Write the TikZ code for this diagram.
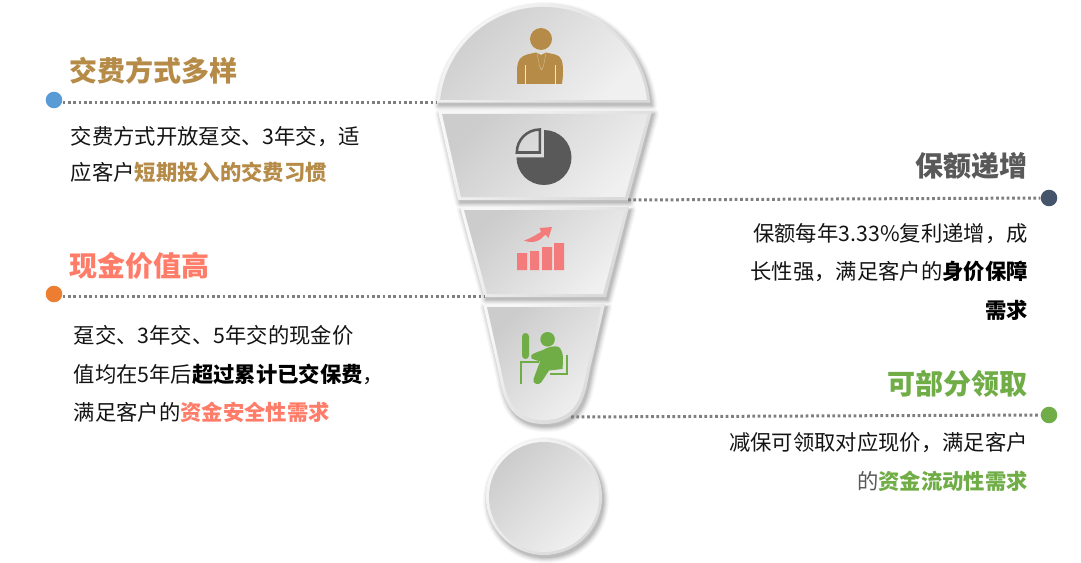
\documentclass[tikz,border=0pt]{standalone}
\usepackage{fontspec}
\setmainfont{Noto Sans CJK SC}
\definecolor{brownc}{HTML}{B58B47}
\definecolor{greyc}{HTML}{595959}
\definecolor{salmonc}{HTML}{FF7C69}
\definecolor{greenc}{HTML}{70AD47}
\definecolor{barc}{HTML}{F47B7B}
\definecolor{lnc}{HTML}{7F7F7F}
\definecolor{bluec}{HTML}{5B9BD5}
\definecolor{slatec}{HTML}{44546A}
\definecolor{orangec}{HTML}{ED7D31}
\tikzset{
  dotline/.style={draw=lnc,line width=2.25pt,dash pattern=on 2.1pt off 1.9pt},
  enddot/.style={circle,inner sep=0pt,minimum size=12.4pt,fill=#1},
  ttl/.style={inner sep=0pt,font=\fontsize{21}{25}\selectfont\bfseries,text=#1},
  bodyl/.style={inner sep=0pt,anchor=north west,align=left,text=black!92},
  bodyr/.style={inner sep=0pt,anchor=north east,align=right,text=black!92},
  outerb/.style={top color=black!3,bottom color=black!15,shading angle=45},
  innerb/.style={top color=black!20,bottom color=black!6,shading angle=45},
}
\newcommand\softshadow[1]{%
  \foreach \w/\c in {10/3,8/6,6/10,4/15,2/20}{\draw[shift={(2,3)},draw=black!\c,line width=\w*0.75pt,line join=round] #1;}%
  \fill[shift={(2,3)},black!26] #1;}
\newcommand\bevel[2]{\shade[outerb] #1;\shade[innerb] #2;}
\newcommand\hl[2]{{\bfseries\color{#1}#2}}
\def\domeO{(436.8,102.6) arc[start angle=184.5,end angle=355.5,radius=107] -- cycle}
\def\domeI{(440.1,100) arc[start angle=186,end angle=354,radius=104] -- cycle}
\def\trapAO{(438,111) -- (652,111) -- (628,200) -- (458,200) -- cycle}
\def\trapAI{(442,114) -- (648,114) -- (625,197) -- (461,197) -- cycle}
\def\trapBO{(460,207) -- (629,207) -- (606,297) -- (484,297) -- cycle}
\def\trapBI{(464,210) -- (625,210) -- (603,294) -- (487,294) -- cycle}
\def\dropO{(483,304) -- (605,304) -- (591,365) .. controls (586,387) and (585,424) .. (544,424) .. controls (503,424) and (502,387) .. (497,365) -- cycle}
\def\dropI{(487,307) -- (601,307) -- (588,365) .. controls (583,385) and (582,420) .. (544,420) .. controls (506,420) and (505,385) .. (500,365) -- cycle}
\def\discO{(544,497) circle[radius=58]}
\def\discI{(544,497) circle[radius=55]}
\begin{document}
\begin{tikzpicture}[x=0.75pt,y=-0.75pt]
\useasboundingbox (0,0) rectangle (1081,563);
\fill[white] (0,0) rectangle (1081,563);
% shadows
\softshadow{\discO}
\softshadow{\dropO}
\softshadow{\trapBO}
\softshadow{\trapAO}
\softshadow{\domeO}
% funnel
\bevel{\domeO}{\domeI}
\bevel{\trapAO}{\trapAI}
\bevel{\trapBO}{\trapBI}
\bevel{\dropO}{\dropI}
\bevel{\discO}{\discI}
% person icon
\fill[brownc] (541,39) circle[radius=11];
\fill[brownc] (517,84) -- (517,71) .. controls (517,60) and (521,56) .. (527,54.5) -- (536,52.5) -- (541,55) -- (546,52.5) -- (555,54.5) .. controls (561,56) and (563,60) .. (563,71) .. controls (563,76) and (562.5,80) .. (562,84) -- cycle;
\draw[black!10,line width=0.75pt] (525.3,65) -- (525.3,84) (555.3,65) -- (555.3,84);
\draw[brownc!60!white,line width=0.35pt] (537,53) -- (539.5,66) -- (541.5,70) -- (543.5,66) -- (546,53);
% pie icon
\fill[greyc] (544,130) arc[start angle=270,end angle=540,radius=27.5] -- (544,157.5) -- cycle;
\draw[greyc,line width=1.9pt,line join=miter] (539.8,129.5) arc[start angle=270,end angle=180,radius=23] -- (539.8,152.5) -- cycle;
% bars icon
\fill[barc] (517,253) rectangle (527,270) (530,251) rectangle (539,270) (542,247) rectangle (552,270) (554,243) rectangle (564,270);
\fill[barc] (524,240.5) .. controls (532,238) and (537,234) .. (541,232) -- (539.5,228) -- (552,227) -- (548.5,238) -- (545.5,234.5) .. controls (541,240) and (534,244.5) .. (524,240.5) -- cycle;
% person at desk icon
\fill[greenc] (522,336.5) arc[start angle=180,end angle=360,radius=3.5] -- (529,355.5) arc[start angle=0,end angle=180,radius=3.5] -- cycle;
\fill[greenc] (547.6,339.3) circle[radius=7.3];
\fill[greenc] (531.5,355) .. controls (535,352) and (542,351) .. (547,348) .. controls (552,346) and (558,345.5) .. (560,348) .. controls (564,353) and (563,362) .. (562.5,369) -- (549,370.5) -- (541.5,382) .. controls (539,386) and (532,384) .. (533.5,379) -- (540,361.5) -- (534,359.5) .. controls (531,359) and (530.5,357) .. (531.5,355) -- cycle;
\draw[greenc,line width=1.2pt] (520.8,384) -- (520.8,361.7) -- (538.5,361.7);
\draw[greenc,line width=1.2pt] (566.7,355) -- (566.7,374) -- (550,374);
% connectors
\coordinate (endA) at (436,102.5);
\coordinate (endB) at (628,200);
\coordinate (endC) at (484,296.5);
\coordinate (endD) at (571,417);
\node[enddot=bluec] (dotA) at (54,100) {};
\node[enddot=slatec] (dotB) at (1049,198) {};
\node[enddot=orangec] (dotC) at (54,294) {};
\node[enddot=greenc] (dotD) at (1049,415) {};
\draw[dotline] (dotA.east |- endA) -- (endA);
\draw[dotline] (endB) -- (dotB.west);
\draw[dotline] (dotC.east |- endC) -- (endC);
\draw[dotline] (endD) -- (dotD.west);
% texts
\node[ttl=brownc,anchor=west] (titleA) at (69,71) {交费方式多样};
\node[ttl=greyc,anchor=east] (titleB) at (1028,166) {保额递增};
\node[ttl=salmonc,anchor=west] (titleC) at (69,266) {现金价值高};
\node[ttl=greenc,anchor=east] (titleD) at (1028,384) {可部分领取};
\node[bodyl,font=\fontsize{16}{27}\selectfont] (bodyA) at (70.5,126) {交费方式开放趸交、3年交，适\\应客户\hl{brownc}{短期投入的交费习惯}};
\node[bodyr,font=\fontsize{16}{29}\selectfont] (bodyB) at (1028,223) {保额每年3.33\%复利递增，成\\长性强，满足客户的\hl{black}{身价保障}\\\hl{black}{需求}};
\node[bodyl,font=\fontsize{16}{28.6}\selectfont] (bodyC) at (73.5,325.5) {趸交、3年交、5年交的现金价\\值均在5年后\hl{black}{超过累计已交保费}，\\满足客户的\hl{salmonc}{资金安全性需求}};
\node[bodyr,font=\fontsize{16}{29}\selectfont] (bodyD) at (1028,432.5) {减保可领取对应现价，满足客户\\{\color{greyc}的}\hl{greenc}{资金流动性需求}};
\end{tikzpicture}
\end{document}
